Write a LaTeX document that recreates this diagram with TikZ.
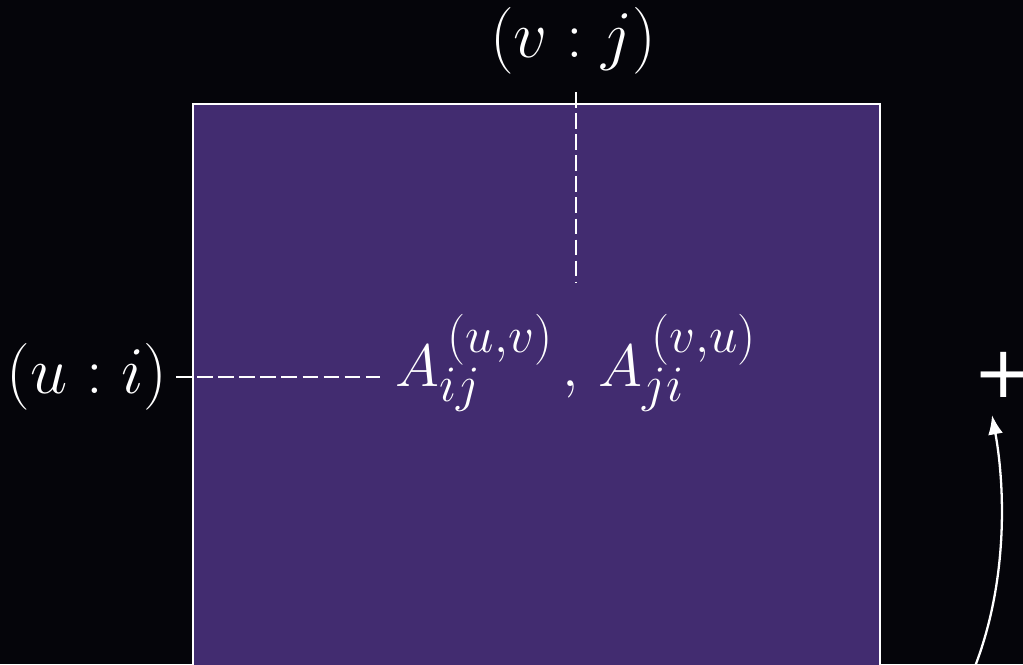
\RequirePackage{fix-cm}
\documentclass[tikz,border=0pt]{standalone}
\usepackage{fontspec}
\newfontfamily\plusfont{DejaVu Sans}
\usetikzlibrary{arrows.meta}
\DeclareMathSizes{34}{34}{29}{22}
\definecolor{bg}{RGB}{5,5,10}
\definecolor{panel}{RGB}{66,44,112}
\begin{document}
\begin{tikzpicture}[x=0.02cm,y=-0.02cm,
  mathlbl/.style={text=white,inner sep=0pt,font=\fontsize{38}{46}\selectfont},
  mainlbl/.style={text=white,inner sep=0pt,font=\fontsize{34}{40}\selectfont},
  dashline/.style={white,line width=1.1pt,dash pattern=on 9pt off 3pt},
  panelbox/.style={fill=panel,draw=white,line width=1.1pt}]
\useasboundingbox (0,0) rectangle (1023,664);
\clip (0,0) rectangle (1023,664);
\fill[bg] (0,0) rectangle (1023,664);
\path[panelbox] (193,104) rectangle (880,720);
\node[mainlbl,anchor=base] (main) at (576,386) {$A_{ij}^{\,(u,v)}\,,\,A_{ji}^{\,(v,u)}$};
\node[mathlbl,anchor=base] (lblU) at (87,393) {$(u:i)$};
\node[mathlbl,anchor=base] (lblV) at (573,57) {$(v:j)$};
\node[text=white,inner sep=0pt,font=\plusfont\fontsize{41}{48}\selectfont] (plus) at (1004,375) {+};
\coordinate (hL) at (176,377);
\coordinate (hR) at (380,377);
\coordinate (vT) at (576,92);
\coordinate (vB) at (576,283);
\draw[dashline] (hL) -- (hR);
\draw[dashline] (vT) -- (vB);
\coordinate (arrStart) at (965,690);
\coordinate (arrEnd) at (992,415);
\draw[white,line width=1.3pt,-{Latex[length=11pt,width=8.5pt]}] (arrStart) .. controls (1012,590) and (1004,480) .. (arrEnd);
\end{tikzpicture}
\end{document}
